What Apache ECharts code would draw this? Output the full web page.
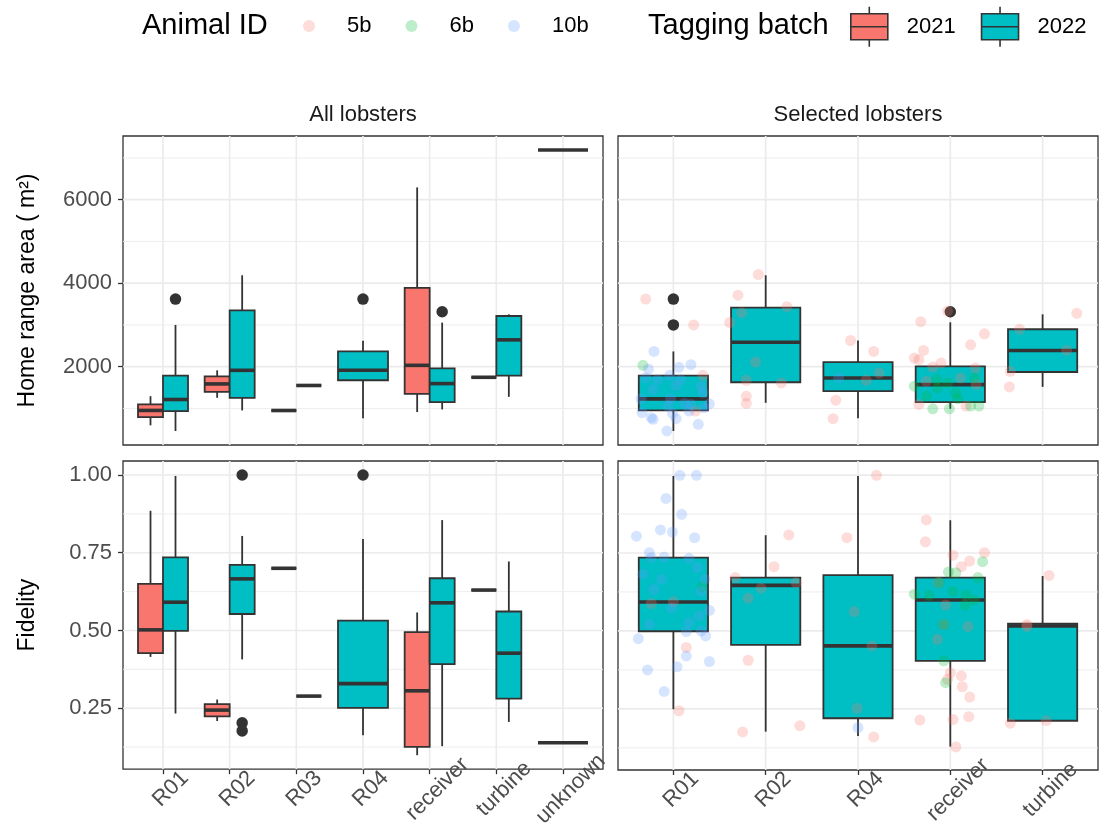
<!DOCTYPE html>
<html><head><meta charset="utf-8">
<script src="https://cdn.jsdelivr.net/npm/echarts@6/dist/echarts.min.js"></script>
<style>html,body{margin:0;padding:0;background:#fff}#c{width:1099px;height:830px}</style>
</head><body><div id="c"></div>
<script>
// ---------------- data ----------------
const allCats = ['R01', 'R02', 'R03', 'R04', 'receiver', 'turbine', 'unknown'];
const selCats = ['R01', 'R02', 'R04', 'receiver', 'turbine'];
const batches = ['2021', '2022'];
const animals = ['5b', '6b', '10b'];
const homeTicks = [2000, 4000, 6000];
const homeMinor = [1000, 3000, 5000, 7000];
const fidTicks = [0.25, 0.5, 0.75, 1.0];
const fidMinor = [0.125, 0.375, 0.625, 0.875];
const homeRange = [124, 7526];
const fidRange = [0.054, 1.045];

// [category, batch, lower whisker, Q1, median, Q3, upper whisker]  (single value = one number)
const homeAllStats = [
  ['R01', '2021', 595, 793, 952, 1095, 1293],
  ['R01', '2022', 460, 936, 1214, 1786, 3000],
  ['R02', '2021', 1254, 1397, 1587, 1770, 1913],
  ['R02', '2022', 952, 1254, 1913, 3349, 4190],
  ['R03', '2021', 950],
  ['R03', '2022', 1550],
  ['R04', '2022', 762, 1675, 1913, 2365, 2619],
  ['receiver', '2021', 913, 1349, 2032, 3889, 6294],
  ['receiver', '2022', 976, 1151, 1595, 1960, 3056],
  ['turbine', '2021', 1746],
  ['turbine', '2022', 1278, 1786, 2643, 3214, 3254],
  ['unknown', '2022', 7190]
];
const homeAllOutliers = [['R01', '2022', 3619], ['R04', '2022', 3619], ['receiver', '2022', 3317]];

const fidAllStats = [
  ['R01', '2021', 0.415, 0.427, 0.502, 0.650, 0.885],
  ['R01', '2022', 0.233, 0.499, 0.591, 0.735, 0.997],
  ['R02', '2021', 0.209, 0.224, 0.244, 0.263, 0.278],
  ['R02', '2022', 0.407, 0.553, 0.666, 0.711, 0.804],
  ['R03', '2021', 0.70],
  ['R03', '2022', 0.289],
  ['R04', '2022', 0.163, 0.251, 0.329, 0.532, 0.794],
  ['receiver', '2021', 0.099, 0.126, 0.306, 0.495, 0.558],
  ['receiver', '2022', 0.128, 0.392, 0.589, 0.668, 0.855],
  ['turbine', '2021', 0.630],
  ['turbine', '2022', 0.206, 0.281, 0.427, 0.561, 0.722],
  ['unknown', '2022', 0.139]
];
const fidAllOutliers = [['R02', '2022', 1.0], ['R02', '2022', 0.203], ['R02', '2022', 0.177], ['R04', '2022', 1.0]];

const homeSelStats = [
  ['R01', '2022', 460, 952, 1230, 1786, 2365],
  ['R02', '2022', 1135, 1627, 2587, 3413, 4190],
  ['R04', '2022', 762, 1413, 1730, 2111, 2627],
  ['receiver', '2022', 992, 1151, 1571, 2008, 3063],
  ['turbine', '2022', 1516, 1873, 2389, 2897, 3254]
];
const homeSelOutliers = [['R01', '2022', 3619], ['R01', '2022', 3000], ['receiver', '2022', 3317]];

const fidSelStats = [
  ['R01', '2022', 0.249, 0.499, 0.593, 0.735, 0.997],
  ['R02', '2022', 0.177, 0.455, 0.646, 0.671, 0.807],
  ['R04', '2022', 0.163, 0.220, 0.452, 0.679, 0.997],
  ['receiver', '2022', 0.129, 0.404, 0.599, 0.671, 0.855],
  ['turbine', '2022', 0.212, 0.212, 0.516, 0.523, 0.676]
];
const fidSelOutliers = [];

// jittered observations: [category, jitter (category units), value, animal]
const homeSelPoints = [
  ['R01', -0.30, 3619, '5b'], ['R01', 0.22, 3000, '5b'], ['R01', 0.32, 1793, '5b'], ['R01', 0.24, 936, '5b'],
  ['R01', -0.33, 2032, '6b'],
  ['R01', -0.21, 2365, '10b'], ['R01', 0.19, 2048, '10b'], ['R01', 0.06, 1984, '10b'], ['R01', -0.27, 1944, '10b'],
  ['R01', -0.04, 1794, '10b'], ['R01', -0.17, 1690, '10b'], ['R01', 0.08, 1690, '10b'], ['R01', -0.30, 1730, '10b'],
  ['R01', 0.03, 1548, '10b'], ['R01', 0.30, 1532, '10b'], ['R01', -0.22, 1452, '10b'], ['R01', 0.32, 1373, '10b'],
  ['R01', -0.35, 1230, '10b'], ['R01', -0.03, 1230, '10b'], ['R01', 0.12, 1119, '10b'], ['R01', 0.19, 1095, '10b'],
  ['R01', 0.39, 1111, '10b'], ['R01', -0.06, 1056, '10b'], ['R01', 0.33, 1016, '10b'], ['R01', -0.34, 897, '10b'],
  ['R01', -0.01, 881, '10b'], ['R01', 0.17, 936, '10b'], ['R01', -0.24, 778, '10b'], ['R01', 0.03, 754, '10b'],
  ['R01', -0.22, 738, '10b'], ['R01', 0.27, 619, '10b'], ['R01', -0.07, 460, '10b'],
  ['R02', -0.08, 4206, '5b'], ['R02', -0.30, 3714, '5b'], ['R02', 0.23, 3437, '5b'], ['R02', -0.26, 3294, '5b'],
  ['R02', -0.39, 3056, '5b'], ['R02', -0.11, 2111, '5b'], ['R02', -0.21, 1675, '5b'], ['R02', 0.17, 1611, '5b'],
  ['R02', -0.21, 1294, '5b'], ['R02', -0.21, 1119, '5b'],
  ['R04', -0.08, 2627, '5b'], ['R04', 0.17, 2365, '5b'], ['R04', 0.23, 1849, '5b'], ['R04', 0.09, 1675, '5b'],
  ['R04', -0.24, 1198, '5b'], ['R04', -0.27, 754, '5b'], ['R04', -0.21, 1730, '10b'],
  ['receiver', -0.03, 3333, '5b'], ['receiver', -0.32, 3079, '5b'], ['receiver', 0.37, 2786, '5b'],
  ['receiver', 0.22, 2524, '5b'], ['receiver', -0.29, 2389, '5b'], ['receiver', -0.39, 2206, '5b'],
  ['receiver', -0.34, 2167, '5b'], ['receiver', -0.10, 2087, '5b'], ['receiver', -0.19, 1992, '5b'],
  ['receiver', 0.27, 1968, '5b'], ['receiver', 0.11, 1730, '5b'], ['receiver', -0.26, 1651, '5b'],
  ['receiver', 0.28, 1571, '5b'], ['receiver', -0.34, 1095, '5b'], ['receiver', 0.17, 1056, '5b'],
  ['receiver', -0.39, 1532, '6b'], ['receiver', 0.26, 1730, '6b'], ['receiver', -0.14, 1492, '6b'],
  ['receiver', -0.03, 1611, '6b'], ['receiver', 0.06, 1373, '6b'], ['receiver', -0.19, 992, '6b'],
  ['receiver', -0.01, 992, '6b'], ['receiver', 0.22, 1056, '6b'], ['receiver', 0.31, 1056, '6b'],
  ['receiver', 0.08, 1230, '6b'], ['receiver', -0.26, 1294, '6b'], ['receiver', -0.15, 1690, '6b'],
  ['turbine', 0.37, 3278, '5b'], ['turbine', -0.25, 2897, '5b'], ['turbine', 0.26, 2389, '5b'],
  ['turbine', -0.35, 1889, '5b'], ['turbine', -0.36, 1516, '5b']
];

const fidSelPoints = [
  ['R01', 0.07, 0.999, '10b'], ['R01', 0.25, 0.999, '10b'], ['R01', -0.08, 0.925, '10b'], ['R01', 0.09, 0.874, '10b'],
  ['R01', -0.40, 0.804, '10b'], ['R01', -0.14, 0.824, '10b'], ['R01', -0.01, 0.817, '10b'], ['R01', 0.23, 0.799, '10b'],
  ['R01', -0.26, 0.751, '10b'], ['R01', -0.24, 0.735, '10b'], ['R01', -0.10, 0.737, '10b'], ['R01', 0.17, 0.733, '10b'],
  ['R01', -0.33, 0.682, '10b'], ['R01', -0.13, 0.666, '10b'], ['R01', 0.26, 0.703, '10b'], ['R01', 0.34, 0.666, '10b'],
  ['R01', -0.21, 0.633, '10b'], ['R01', 0.30, 0.628, '10b'], ['R01', -0.02, 0.573, '10b'], ['R01', 0.39, 0.566, '10b'],
  ['R01', 0.28, 0.548, '10b'], ['R01', -0.26, 0.521, '10b'], ['R01', 0.17, 0.527, '10b'], ['R01', 0.14, 0.498, '10b'],
  ['R01', 0.30, 0.500, '10b'], ['R01', 0.35, 0.484, '10b'], ['R01', -0.38, 0.475, '10b'], ['R01', 0.14, 0.420, '10b'],
  ['R01', 0.39, 0.402, '10b'], ['R01', -0.28, 0.375, '10b'], ['R01', 0.04, 0.385, '10b'], ['R01', -0.10, 0.306, '10b'],
  ['R01', -0.24, 0.588, '5b'], ['R01', 0.00, 0.594, '5b'], ['R01', 0.14, 0.447, '5b'], ['R01', 0.06, 0.244, '5b'],
  ['R01', 0.31, 0.642, '6b'],
  ['R02', 0.25, 0.808, '5b'], ['R02', 0.09, 0.706, '5b'], ['R02', -0.33, 0.671, '5b'], ['R02', 0.33, 0.655, '5b'],
  ['R02', -0.05, 0.637, '5b'], ['R02', -0.19, 0.605, '5b'], ['R02', -0.19, 0.406, '5b'], ['R02', -0.25, 0.176, '5b'],
  ['R02', 0.37, 0.196, '5b'],
  ['R04', -0.12, 0.799, '5b'], ['R04', -0.04, 0.562, '5b'], ['R04', -0.01, 0.252, '5b'], ['R04', 0.20, 0.999, '5b'],
  ['R04', 0.15, 0.452, '5b'], ['R04', 0.17, 0.160, '5b'], ['R04', 0.00, 0.190, '10b'],
  ['receiver', -0.26, 0.856, '5b'], ['receiver', -0.27, 0.786, '5b'], ['receiver', 0.03, 0.743, '5b'],
  ['receiver', 0.37, 0.751, '5b'], ['receiver', 0.21, 0.724, '5b'], ['receiver', 0.12, 0.706, '5b'],
  ['receiver', -0.13, 0.655, '5b'], ['receiver', -0.05, 0.583, '5b'], ['receiver', -0.07, 0.521, '5b'],
  ['receiver', -0.14, 0.473, '5b'], ['receiver', 0.00, 0.366, '5b'], ['receiver', 0.12, 0.356, '5b'],
  ['receiver', -0.03, 0.345, '5b'], ['receiver', 0.13, 0.321, '5b'], ['receiver', 0.21, 0.288, '5b'],
  ['receiver', 0.20, 0.225, '5b'], ['receiver', -0.33, 0.214, '5b'], ['receiver', 0.03, 0.216, '5b'],
  ['receiver', 0.06, 0.128, '5b'], ['receiver', 0.19, 0.514, '5b'],
  ['receiver', 0.35, 0.722, '6b'], ['receiver', -0.02, 0.689, '6b'], ['receiver', 0.06, 0.687, '6b'],
  ['receiver', 0.30, 0.671, '6b'], ['receiver', -0.12, 0.655, '6b'], ['receiver', -0.39, 0.618, '6b'],
  ['receiver', -0.23, 0.614, '6b'], ['receiver', 0.03, 0.626, '6b'], ['receiver', 0.17, 0.615, '6b'],
  ['receiver', 0.26, 0.599, '6b'], ['receiver', 0.16, 0.583, '6b'], ['receiver', -0.07, 0.521, '6b'],
  ['receiver', -0.07, 0.404, '6b'], ['receiver', -0.05, 0.334, '6b'],
  ['turbine', 0.07, 0.678, '5b'], ['turbine', -0.17, 0.521, '5b'], ['turbine', -0.17, 0.514, '5b'],
  ['turbine', -0.35, 0.204, '5b'], ['turbine', 0.04, 0.212, '5b']
];

// ---------------- styling / layout ----------------
const FONT = 'Liberation Sans, Arial, sans-serif';
const FILL = { '2021': '#F8766D', '2022': '#00BFC4' };
const PTCOL = { '5b': 'rgba(248,118,109,0.32)', '6b': 'rgba(0,186,56,0.32)', '10b': 'rgba(97,156,255,0.32)' };
const DARK = '#333333';
const BOXW = 0.75;

const panels = [
  { grid: { left: 123, top: 136, width: 480, height: 309 }, cats: allCats, stats: homeAllStats, out: homeAllOutliers, pts: null, range: homeRange, ticks: homeTicks, minor: homeMinor, showX: false, showY: true, yName: 'Home range area ( m²)', fmt: v => String(v) },
  { grid: { left: 618, top: 136, width: 480, height: 309 }, cats: selCats, stats: homeSelStats, out: homeSelOutliers, pts: homeSelPoints, range: homeRange, ticks: homeTicks, minor: homeMinor, showX: false, showY: false },
  { grid: { left: 123, top: 461, width: 480, height: 309 }, cats: allCats, stats: fidAllStats, out: fidAllOutliers, pts: null, range: fidRange, ticks: fidTicks, minor: fidMinor, showX: true, showY: true, yName: 'Fidelity', fmt: v => v.toFixed(2) },
  { grid: { left: 618, top: 461, width: 480, height: 309 }, cats: selCats, stats: fidSelStats, out: fidSelOutliers, pts: fidSelPoints, range: fidRange, ticks: fidTicks, minor: fidMinor, showX: true, showY: false }
];

function boxPositions(stats, cats) {
  const groups = {};
  stats.forEach(s => { (groups[s[0]] = groups[s[0]] || []).push(s[1]); });
  Object.keys(groups).forEach(k => groups[k].sort((a, b) => batches.indexOf(a) - batches.indexOf(b)));
  const pos = {};
  stats.forEach(s => {
    const g = groups[s[0]], ci = cats.indexOf(s[0]);
    let x = ci, w = BOXW;
    if (g.length > 1) { w = BOXW / g.length; x = ci - BOXW / 2 + w * (g.indexOf(s[1]) + 0.5); }
    pos[s[0] + '|' + s[1]] = { x, w };
  });
  return pos;
}

function renderBox(params, api) {
  const x = api.value(0), w = api.value(1);
  const lo = api.value(2), q1 = api.value(3), md = api.value(4), q3 = api.value(5), hi = api.value(6);
  const fill = api.visual('color');
  const a = api.coord([x - w / 2, q3]), b = api.coord([x + w / 2, q1]);
  const cx = api.coord([x, md])[0];
  const yHi = api.coord([x, hi])[1], yLo = api.coord([x, lo])[1], yMd = api.coord([x, md])[1];
  const ls = { stroke: DARK, lineWidth: 1.8 };
  return { type: 'group', children: [
    { type: 'line', shape: { x1: cx, y1: yHi, x2: cx, y2: a[1] }, style: ls },
    { type: 'line', shape: { x1: cx, y1: b[1], x2: cx, y2: yLo }, style: ls },
    { type: 'rect', shape: { x: a[0], y: a[1], width: b[0] - a[0], height: b[1] - a[1] }, style: { fill: fill, stroke: DARK, lineWidth: 1.8 } },
    { type: 'line', shape: { x1: a[0], y1: yMd, x2: b[0], y2: yMd }, style: { stroke: DARK, lineWidth: 3.6 } }
  ] };
}
function renderH(params, api) {
  const cs = params.coordSys;
  const y = api.coord([api.value(0), api.value(1)])[1];
  return { type: 'line', shape: { x1: cs.x, y1: y, x2: cs.x + cs.width, y2: y }, style: { stroke: '#EBEBEB', lineWidth: api.value(2) ? 1.7 : 0.9 } };
}
function renderV(params, api) {
  const cs = params.coordSys;
  const x = api.coord([api.value(0), api.value(1)])[0];
  return { type: 'line', shape: { x1: x, y1: cs.y, x2: x, y2: cs.y + cs.height }, style: { stroke: '#EBEBEB', lineWidth: 1.7 } };
}

const grid = [], xAxis = [], yAxis = [], series = [];
panels.forEach((p, i) => {
  grid.push(Object.assign({ show: true, borderColor: DARK, borderWidth: 1.3, backgroundColor: '#fff', containLabel: false }, p.grid));
  const idx = p.cats.map((c, k) => k);
  xAxis.push({
    type: 'value', gridIndex: i, min: -0.6, max: p.cats.length - 0.4, position: 'bottom',
    axisLine: { show: false, onZero: false }, splitLine: { show: false },
    axisTick: { show: p.showX, customValues: idx, length: 5, lineStyle: { color: DARK, width: 1.3 } },
    axisLabel: { show: p.showX, customValues: idx, formatter: v => p.cats[Math.round(v)] || '', rotate: 45, align: 'center', verticalAlign: 'top', margin: 12, fontSize: 22, color: '#4D4D4D', fontFamily: FONT }
  });
  yAxis.push({
    type: 'value', gridIndex: i, min: p.range[0], max: p.range[1], position: 'left',
    axisLine: { show: false, onZero: false }, splitLine: { show: false },
    axisTick: { show: p.showY, customValues: p.ticks, length: 5, lineStyle: { color: DARK, width: 1.3 } },
    axisLabel: { show: p.showY, customValues: p.ticks, formatter: p.fmt, margin: 11, fontSize: 22, color: '#4D4D4D', fontFamily: FONT },
    name: p.yName || '', nameLocation: 'middle', nameGap: 84, nameRotate: 90,
    nameTextStyle: { fontSize: 23, color: '#000', fontFamily: FONT }
  });
  // panel grid lines
  const hData = p.ticks.map(v => [p.cats.length / 2, v, 1]).concat(p.minor.map(v => [p.cats.length / 2, v, 0]));
  series.push({ type: 'custom', xAxisIndex: i, yAxisIndex: i, z: 1, silent: true, animation: false, renderItem: renderH, data: hData, encode: { x: 0, y: 1 } });
  series.push({ type: 'custom', xAxisIndex: i, yAxisIndex: i, z: 1, silent: true, animation: false, renderItem: renderV, data: idx.map(k => [k, (p.range[0] + p.range[1]) / 2]), encode: { x: 0, y: 1 } });
  // boxes
  const pos = boxPositions(p.stats, p.cats);
  batches.forEach(bt => {
    const rows = p.stats.filter(s => s[1] === bt);
    if (!rows.length) return;
    series.push({
      type: 'custom', name: bt, xAxisIndex: i, yAxisIndex: i, z: 2, animation: false, silent: true,
      itemStyle: { color: FILL[bt] }, renderItem: renderBox, encode: { x: 0, y: [2, 3, 4, 5, 6] },
      data: rows.map(s => {
        const q = pos[s[0] + '|' + s[1]];
        const v = s.length > 3 ? s.slice(2) : [s[2], s[2], s[2], s[2], s[2]];
        return [q.x, q.w].concat(v);
      })
    });
  });
  // outliers
  if (p.out.length) {
    series.push({
      type: 'scatter', name: 'outlier', xAxisIndex: i, yAxisIndex: i, z: 3, silent: true, animation: false,
      symbol: 'circle', symbolSize: 11.5, itemStyle: { color: DARK, opacity: 1 },
      data: p.out.map(o => [pos[o[0] + '|' + o[1]].x, o[2]])
    });
  }
  // jittered observations
  if (p.pts) {
    animals.forEach(an => {
      series.push({
        type: 'scatter', name: an, xAxisIndex: i, yAxisIndex: i, z: 4, silent: true, animation: false,
        symbol: 'circle', symbolSize: 11, itemStyle: { color: PTCOL[an] },
        data: p.pts.filter(d => d[3] === an).map(d => [p.cats.indexOf(d[0]) + d[1], d[2]])
      });
    });
  }
});

const BOXICON = 'path://M18.5,0L18.5,7M0,7L37,7L37,33L0,33ZM0,20L37,20M18.5,33L18.5,40';

const option = {
  backgroundColor: '#ffffff',
  animation: false,
  textStyle: { fontFamily: FONT },
  grid, xAxis, yAxis, series,
  legend: [
    {
      data: animals.map(a => ({ name: a, icon: 'circle' })),
      left: 303, top: 15, padding: 0, orient: 'horizontal', selectedMode: false,
      itemWidth: 66, itemHeight: 12, itemGap: 34,
      textStyle: { fontSize: 22, color: '#000', fontFamily: FONT }
    },
    {
      data: batches.map(b => ({ name: b, icon: BOXICON, itemStyle: { color: FILL[b], borderColor: DARK, borderWidth: 1.6 } })),
      left: 850, top: 6, padding: 0, orient: 'horizontal', selectedMode: false,
      itemWidth: 37, itemHeight: 40, itemGap: 25,
      textStyle: { fontSize: 22, color: '#000', fontFamily: FONT, padding: [0, 0, 0, 14] }
    }
  ],
  graphic: [
    { type: 'text', x: 142, y: 26, style: { text: 'Animal ID', fontSize: 29, fontFamily: FONT, fill: '#000', align: 'left', verticalAlign: 'middle', textAlign: 'left', textVerticalAlign: 'middle' } },
    { type: 'text', x: 648, y: 26, style: { text: 'Tagging batch', fontSize: 29, fontFamily: FONT, fill: '#000', align: 'left', verticalAlign: 'middle', textAlign: 'left', textVerticalAlign: 'middle' } },
    { type: 'text', x: 363, y: 115, style: { text: 'All lobsters', fontSize: 22, fontFamily: FONT, fill: '#1A1A1A', align: 'center', verticalAlign: 'middle', textAlign: 'center', textVerticalAlign: 'middle' } },
    { type: 'text', x: 858, y: 115, style: { text: 'Selected lobsters', fontSize: 22, fontFamily: FONT, fill: '#1A1A1A', align: 'center', verticalAlign: 'middle', textAlign: 'center', textVerticalAlign: 'middle' } }
  ]
};

const chart = echarts.init(document.getElementById('c'), null, { renderer: 'canvas' });
chart.setOption(option);
</script>
</body></html>
